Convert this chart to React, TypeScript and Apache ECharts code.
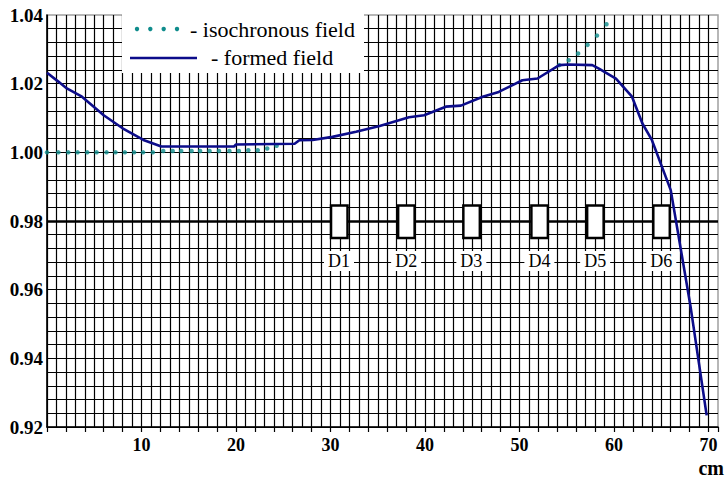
import React, { useEffect, useRef } from 'react';
import * as echarts from 'echarts';

// formed field (solid navy line)
const formedX = [0, 1.2, 2.1, 3.7, 6, 8, 10.2, 12.1, 19.8, 20, 26.2, 26.7, 28.1, 30.2, 32.7, 35.2, 38.3, 39.9, 42.2, 43.8, 46.1, 47.8, 50.3, 51.9, 54.2, 55.2, 57.7, 58.4, 60.2, 61.9, 63, 64, 66, 68.1, 69.8];
const formedY = [1.0232, 1.0206, 1.0186, 1.0162, 1.0108, 1.007, 1.0036, 1.0017, 1.0017, 1.0023, 1.0025, 1.0035, 1.0036, 1.0045, 1.006, 1.0077, 1.0102, 1.0108, 1.0133, 1.0136, 1.0162, 1.0176, 1.021, 1.0215, 1.0254, 1.0256, 1.0254, 1.0244, 1.0215, 1.0162, 1.0084, 1.0036, 0.989, 0.955, 0.9234];

// isochronous field (teal dots)
const isoX = [0, 1.2, 2.25, 3.24, 4.26, 5.25, 6.3, 7.25, 8.24, 9.22, 10.17, 11.2, 12.3, 13.3, 14.2, 15.3, 16.2, 17.2, 18.2, 19.3, 20.3, 21.3, 22.3, 23.3, 24.3, 54.2, 55.2, 56.2, 57.2, 58.2, 59.2];
const isoY = [1.0, 1.0, 1.0, 1.0, 1.0, 1.0, 1.0, 1.0, 1.0, 1.0, 1.0, 1.0, 1.0004, 1.0004, 1.0004, 1.0004, 1.0004, 1.0004, 1.0004, 1.0004, 1.0004, 1.0006, 1.0006, 1.0011, 1.0019, 1.0254, 1.0268, 1.0288, 1.0313, 1.034, 1.0373];

// detectors on the reference level
const detectorX = [30.9, 38.0, 44.9, 52.1, 58.0, 65.0];
const detectorNames = ['D1', 'D2', 'D3', 'D4', 'D5', 'D6'];
const referenceLevel = 0.98;

const xTickLabels = [10, 20, 30, 40, 50, 60, 70];
const yTickLabels = [0.92, 0.94, 0.96, 0.98, 1.0, 1.02, 1.04];

const seriesNames = ['- isochronous field', '- formed field'];
const axisUnit = 'cm';

const SERIF = "'Times New Roman', 'Liberation Serif', serif";
const NAVY = '#0c0c8a';
const TEAL = '#0f8c8c';

export default function App() {
  const ref = useRef<HTMLDivElement>(null);

  useEffect(() => {
    if (!ref.current) return;
    const chart = echarts.init(ref.current, null, { renderer: 'svg' });

    const gridColor = '#000';
    chart.setOption({
      animation: false,
      backgroundColor: '#fff',
      textStyle: { fontFamily: SERIF },
      grid: {
        left: 47,
        right: 9,
        top: 15,
        bottom: 52,
        show: true,
        backgroundColor: '#fff',
        borderColor: '#a0a0a0',
        borderWidth: 1.5,
      },
      xAxis: [
        {
          type: 'value',
          min: 0,
          max: 71,
          interval: 2,
          axisLine: { show: true, lineStyle: { color: '#000', width: 1.5 } },
          axisTick: { show: true, length: 5, lineStyle: { color: '#000', width: 1.2 } },
          axisLabel: {
            formatter: (v: number) => (xTickLabels.includes(v) ? String(v) : ''),
            fontFamily: SERIF,
            fontWeight: 'bold',
            fontSize: 18,
            color: '#000',
            margin: 9,
          },
          splitLine: { show: false },
        },
        {
          type: 'value',
          min: 0,
          max: 71,
          interval: 1,
          position: 'bottom',
          axisLine: { show: false },
          axisTick: { show: false },
          axisLabel: { show: false },
          splitLine: { show: true, showMinLine: true, showMaxLine: false, lineStyle: { color: gridColor, width: 1.2 } },
        },
      ],
      yAxis: {
        type: 'value',
        min: 0.92,
        max: 1.04,
        interval: 0.004,
        axisLine: { show: true, lineStyle: { color: '#000', width: 1.5 } },
        axisTick: { show: false },
        axisLabel: {
          formatter: (v: number) => {
            const hit = yTickLabels.find((l) => Math.abs(l - v) < 1e-6);
            return hit === undefined ? '' : hit.toFixed(2);
          },
          fontFamily: SERIF,
          fontWeight: 'bold',
          fontSize: 19,
          color: '#000',
          margin: 4,
        },
        splitLine: { show: true, showMaxLine: false, lineStyle: { color: gridColor, width: 1.2 } },
      },
      series: [
        {
          name: seriesNames[0],
          type: 'scatter',
          xAxisIndex: 0,
          data: isoX.map((x, i) => [x, isoY[i]]),
          symbol: 'circle',
          symbolSize: 4.5,
          itemStyle: { color: TEAL },
          z: 3,
          silent: true,
        },
        {
          name: seriesNames[1],
          type: 'line',
          xAxisIndex: 0,
          data: formedX.map((x, i) => [x, formedY[i]]),
          showSymbol: false,
          symbol: 'none',
          lineStyle: { color: NAVY, width: 2.6 },
          z: 4,
          silent: true,
          markLine: {
            silent: true,
            symbol: 'none',
            label: { show: false },
            lineStyle: { color: '#000', width: 2.5, type: 'solid' },
            data: [{ yAxis: referenceLevel }],
            z: 2,
          },
        },
      ],
    });

    const graphics: any[] = [];
    detectorX.forEach((x, i) => {
      const [px, py] = chart.convertToPixel({ xAxisIndex: 0, yAxisIndex: 0 }, [x, referenceLevel]);
      graphics.push({
        type: 'rect',
        z: 100,
        shape: { x: px - 8, y: py - 15.5, width: 16.5, height: 32.5 },
        style: { fill: '#fff', stroke: '#000', lineWidth: 2.5 },
      });
      graphics.push({
        type: 'text',
        z: 100,
        x: px,
        y: py + 40,
        style: {
          text: detectorNames[i],
          fontFamily: SERIF,
          fontSize: 18,
          fill: '#000',
          align: 'center',
          verticalAlign: 'middle',
          backgroundColor: '#fff',
          padding: [1, 4, 1, 4],
        },
      });
    });

    // legend box
    graphics.push({
      type: 'rect',
      z: 100,
      shape: { x: 122, y: 4, width: 242, height: 69 },
      style: { fill: '#fff' },
    });
    [137, 150.3, 163.7, 177].forEach((cx) => {
      graphics.push({ type: 'circle', z: 101, shape: { cx, cy: 29, r: 2.2 }, style: { fill: TEAL } });
    });
    graphics.push({
      type: 'text',
      z: 101,
      x: 190,
      y: 29,
      style: { text: seriesNames[0], fontFamily: SERIF, fontSize: 22, fill: '#000', align: 'left', verticalAlign: 'middle' },
    });
    graphics.push({
      type: 'line',
      z: 101,
      shape: { x1: 130, y1: 58, x2: 197, y2: 58 },
      style: { stroke: NAVY, lineWidth: 2.5 },
    });
    graphics.push({
      type: 'text',
      z: 101,
      x: 211,
      y: 57,
      style: { text: seriesNames[1], fontFamily: SERIF, fontSize: 22, fill: '#000', align: 'left', verticalAlign: 'middle' },
    });
    graphics.push({
      type: 'text',
      z: 101,
      x: 724,
      y: 468,
      style: { text: axisUnit, fontFamily: SERIF, fontSize: 20, fontWeight: 'bold', fill: '#000', align: 'right', verticalAlign: 'middle' },
    });

    chart.setOption({ graphic: graphics });

    return () => chart.dispose();
  }, []);

  return <div ref={ref} style={{ position: 'fixed', left: 0, top: 0, width: 727, height: 479 }} />;
}
